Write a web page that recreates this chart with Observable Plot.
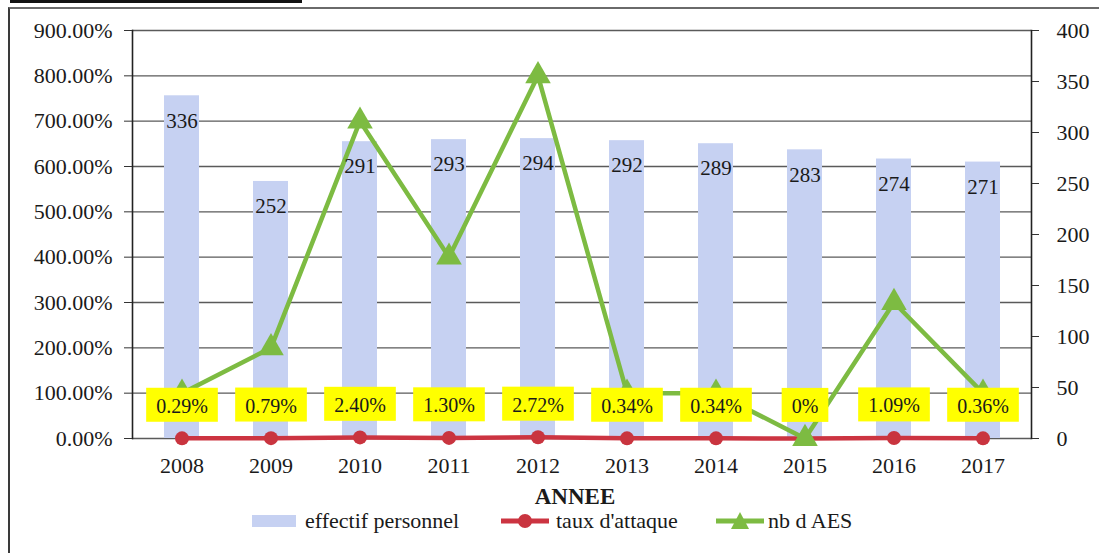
<!DOCTYPE html>
<html>
<head>
<meta charset="utf-8">
<script src="https://cdn.jsdelivr.net/npm/d3@7"></script>
<script src="https://cdn.jsdelivr.net/npm/@observablehq/plot@0.6"></script>
<style>
  html, body { margin: 0; padding: 0; background: #fff; }
  #wrap { position: relative; width: 1099px; height: 553px; overflow: hidden; font-family: "Liberation Serif", serif; color: #1a1a1a; }
  #frame { position: absolute; left: 8px; top: 7px; width: 1100px; height: 560px; border-left: 2px solid #3a3a3a; border-top: 2px solid #6a6a6a; box-sizing: border-box; }
  #rule { position: absolute; left: 10px; top: 0px; width: 292px; height: 3px; background: #111; }
  #chart { position: absolute; left: 0; top: 0; }
  #xtitle { position: absolute; left: 0; width: 1150px; top: 484px; text-align: center; font-weight: bold; font-size: 23px; font-family: "Liberation Serif", serif; }
  .item { position: absolute; top: 508px; display: flex; align-items: center; font-size: 22px; white-space: nowrap; font-family: "Liberation Serif", serif; }
  .item svg { display: block; }
</style>
</head>
<body>
<div id="wrap">
  <div id="rule"></div>
  <div id="frame"></div>
  <div id="chart"></div>
  <div id="xtitle">ANNEE</div>
  <div class="item" style="left:252px"><svg width="44" height="14" style="margin-right:9px"><rect x="0" y="1" width="44" height="12" fill="#c6d1f2"></rect></svg>effectif personnel</div>
  <div class="item" style="left:501px"><svg width="48" height="18" style="margin-right:7px"><line x1="0" y1="9" x2="48" y2="9" stroke="#cc3441" stroke-width="5"></line><circle cx="24" cy="9" r="7" fill="#c9343f"></circle></svg>taux d'attaque</div>
  <div class="item" style="left:716px"><svg width="48" height="18" style="margin-right:4px"><line x1="0" y1="9" x2="48" y2="9" stroke="#7dbb42" stroke-width="5"></line><path d="M24,0 L33,17 L15,17 Z" fill="#7dbb42"></path></svg>nb d AES</div>
</div>
<script>
// Years on the category axis
const years = ["2008", "2009", "2010", "2011", "2012", "2013", "2014", "2015", "2016", "2017"];
// Staff headcount (right axis)
const effectif = [336, 252, 291, 293, 294, 292, 289, 283, 274, 271];
// Attack rate (left axis, as a fraction) and its printed labels
const tauxAttaque = [0.0029, 0.0079, 0.0240, 0.0130, 0.0272, 0.0034, 0.0034, 0, 0.0109, 0.0036];
const tauxLabels = ["0.29%", "0.79%", "2.40%", "1.30%", "2.72%", "0.34%", "0.34%", "0%", "1.09%", "0.36%"];
// Number of blood-exposure accidents (left axis units)
const nbAES = [1, 2, 7, 4, 8, 1, 1, 0, 3, 1];
// Axis ticks
const leftTicks = [0, 1, 2, 3, 4, 5, 6, 7, 8, 9];
const rightTicks = [0, 50, 100, 150, 200, 250, 300, 350, 400];

// The right axis (0–400) shares the plot with the left one (0–900 %)
const rightMax = 400, leftMax = 9;
const k = leftMax / rightMax;

const data = years.map((year, i) => ({
  year,
  effectif: effectif[i],
  taux: tauxAttaque[i],
  tauxLabel: tauxLabels[i],
  aes: nbAES[i]
}));

const font = "Liberation Serif";
const green = "#7dbb42";
const red = "#cc3441";

const chart = Plot.plot({
  width: 1099,
  height: 553,
  marginLeft: 132,
  marginRight: 68,
  marginTop: 30,
  marginBottom: 115,
  style: { fontFamily: font, fontSize: "22px", color: "#1a1a1a", background: "transparent" },
  x: { domain: years, paddingInner: 0.61, paddingOuter: 0.305, axis: null },
  y: { domain: [0, leftMax], axis: null },
  marks: [
    // horizontal gridlines at the left-axis ticks
    Plot.ruleY(leftTicks, { stroke: "#5a5a5a", strokeWidth: 1.4 }),
    // headcount bars
    Plot.barY(data, { x: "year", y: d => d.effectif * k, fill: "#c6d1f2" }),
    // attack rate
    Plot.line(data, { x: "year", y: "taux", stroke: red, strokeWidth: 4.5 }),
    Plot.dot(data, { x: "year", y: "taux", r: 7, fill: "#c9343f", stroke: null }),
    // number of AES
    Plot.line(data, { x: "year", y: "aes", stroke: green, strokeWidth: 4.5 }),
    Plot.dot(data, { x: "year", y: "aes", symbol: "triangle", r: 9.5, fill: green, stroke: null }),
    // headcount values inside the bar tops
    Plot.text(data, { x: "year", y: d => d.effectif * k, text: d => String(d.effectif), dy: 25, fontSize: 21, fill: "#1a1a1a" }),
    // attack-rate labels
    Plot.text(data, { x: "year", y: "taux", text: "tauxLabel", dy: -32, fontSize: 20, fill: "#1a1a1a" }),
    // left axis
    Plot.frame({ anchor: "left", stroke: "#222", strokeWidth: 1.6 }),
    Plot.axisY(leftTicks, {
      anchor: "left", tickSize: 8, tickPadding: 12, fontSize: 22,
      tickFormat: d => (d * 100).toFixed(2) + "%", label: null, stroke: "#333"
    }),
    // right axis
    Plot.frame({ anchor: "right", stroke: "#222", strokeWidth: 1.6 }),
    Plot.axisY(rightTicks.map(v => v * k), {
      anchor: "right", tickSize: 7, tickPadding: 18, fontSize: 22,
      tickFormat: d => String(Math.round(d / k)), label: null, stroke: "#333"
    }),
    // year labels
    Plot.axisX({ tickSize: 0, tickPadding: 19, fontSize: 22, label: null })
  ]
});

document.getElementById("chart").appendChild(chart);

// yellow label backgrounds sized to each attack-rate text
const svgNS = "http://www.w3.org/2000/svg";
chart.querySelectorAll("text").forEach(t => {
  if (!tauxLabels.includes(t.textContent)) return;
  const b = t.getBBox();
  const r = document.createElementNS(svgNS, "rect");
  r.setAttribute("x", b.x - 10);
  r.setAttribute("y", b.y - 7);
  r.setAttribute("width", b.width + 20);
  r.setAttribute("height", b.height + 12);
  r.setAttribute("fill", "#ffff00");
  r.setAttribute("stroke", "none");
  const tr = t.getAttribute("transform");
  if (tr) r.setAttribute("transform", tr);
  t.parentNode.insertBefore(r, t);
});
</script>
</body>
</html>
